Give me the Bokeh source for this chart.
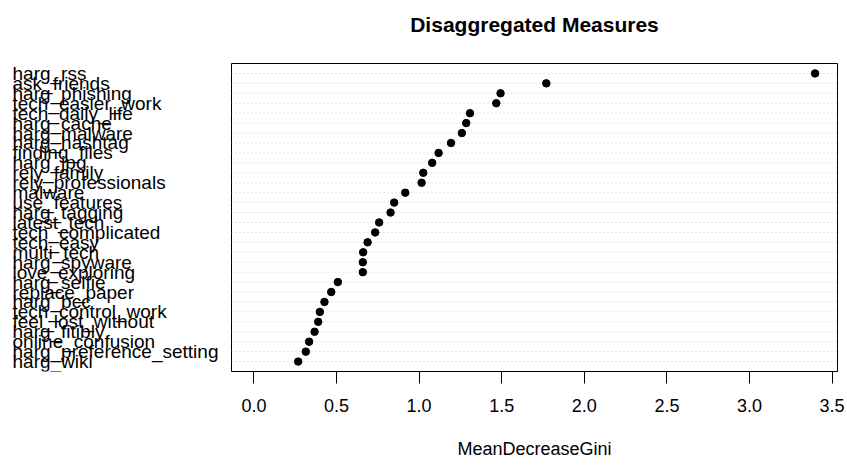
from bokeh.plotting import figure
from bokeh.layouts import row, column
from bokeh.models import Range1d, FixedTicker, ColumnDataSource
from bokeh.core.properties import value
from bokeh.embed import file_html
from bokeh.resources import INLINE

title_text = "Disaggregated Measures"
x_label = "MeanDecreaseGini"
variables = ["harg_rss", "ask_friends", "harg_phishing", "tech_easier_work", "tech_daily_life",
             "harg_cache", "harg_malware", "harg_hashtag", "finding_files", "harg_jpg",
             "rely_family", "rely_professionals", "malware", "use_features", "harg_tagging",
             "latest_tech", "tech_complicated", "tech_easy", "multi_tech", "harg_spyware",
             "love_exploring", "harg_selfie", "replace_paper", "harg_bcc", "tech_control_work",
             "feel_lost_without", "harg_fitibly", "online_confusion", "harg_preference_setting",
             "harg_wiki"]
gini = [3.397, 1.770, 1.493, 1.467, 1.308, 1.285, 1.259, 1.193, 1.118, 1.079,
        1.025, 1.015, 0.916, 0.849, 0.827, 0.758, 0.734, 0.688, 0.661, 0.659,
        0.659, 0.508, 0.468, 0.427, 0.399, 0.389, 0.367, 0.334, 0.314, 0.268]
x_ticks = [0.0, 0.5, 1.0, 1.5, 2.0, 2.5, 3.0, 3.5]

FONT = "Liberation Sans, Arial, Helvetica, sans-serif"

n = len(variables)
rows = list(range(n, 0, -1))
xmax = max(gini)
pad = 0.04 * xmax
xr = Range1d(-pad, xmax + pad)
yr = Range1d(0, n + 1)

W = 845
TH = 40            # title strip height
H = 462 - TH       # height of the chart row
TOP = 63 - TH      # frame top (within chart row)
BOTTOM = 462 - 371
LW = 229           # width of the label strip
FRAME_L = 231
FRAME_R = 837

# ---- title strip ----
tf = figure(width=W, height=TH, x_range=Range1d(0, W), y_range=Range1d(0, TH),
            x_axis_location=None, y_axis_location=None,
            output_backend="svg", toolbar_location=None,
            min_border_left=0, min_border_right=0, min_border_top=0, min_border_bottom=0)
tf.grid.visible = False
tf.outline_line_color = None
tsrc = ColumnDataSource(dict(x=[(FRAME_L + FRAME_R) / 2], y=[TH - 24], t=[title_text]))
tf.text(x="x", y="y", text="t", source=tsrc, text_align="center", text_baseline="alphabetic",
        text_font=value(FONT), text_font_size="21px", text_font_style="bold",
        text_color="black")

# ---- label strip (same row scale as the chart) ----
lab = figure(width=LW, height=H, x_range=Range1d(0, LW), y_range=yr,
             x_axis_location=None, y_axis_location=None,
             output_backend="svg", toolbar_location=None,
             min_border_left=0, min_border_right=0,
             min_border_top=TOP, min_border_bottom=BOTTOM)
lab.grid.visible = False
lab.outline_line_color = None
lab_src = ColumnDataSource(dict(var=variables, row=rows, x=[0] * n))
lab.text(x="x", y="row", text="var", source=lab_src, x_offset=12,
         text_align="left", text_baseline="middle",
         text_font=value(FONT), text_font_size="19px", text_color="black")

# ---- main dot chart ----
p = figure(width=W - LW, height=H, x_range=xr, y_range=yr,
           y_axis_location=None,
           output_backend="svg", toolbar_location=None,
           min_border_left=FRAME_L - LW, min_border_right=W - FRAME_R,
           min_border_top=TOP, min_border_bottom=BOTTOM)
p.xgrid.visible = False
p.ygrid.visible = False
p.outline_line_color = "black"
p.outline_line_width = 1

src = ColumnDataSource(dict(var=variables, val=gini, row=rows,
                            x0=[xr.start] * n, x1=[xr.end] * n))
p.segment(x0="x0", x1="x1", y0="row", y1="row", source=src,
          line_color="#c8c8c8", line_width=1, line_dash="1 3")
p.scatter(x="val", y="row", source=src, size=7.5, fill_color="black", line_color="black")

ax = p.xaxis[0]
ax.ticker = FixedTicker(ticks=x_ticks)
ax.major_label_overrides = {t: f"{t:.1f}" for t in x_ticks}
ax.axis_line_color = None
ax.major_tick_in = 0
ax.major_tick_out = 12
ax.major_tick_line_color = "black"
ax.minor_tick_line_color = None
ax.major_label_standoff = 15
ax.major_label_text_font = FONT
ax.major_label_text_font_size = "18px"
ax.major_label_text_color = "black"
ax.axis_label = x_label
ax.axis_label_text_font = FONT
ax.axis_label_text_font_size = "18px"
ax.axis_label_text_font_style = "normal"
ax.axis_label_text_color = "black"
ax.axis_label_standoff = 24

layout = column(tf, row(lab, p, spacing=0), spacing=0)
open("out.html", "w").write(file_html(layout, INLINE))
